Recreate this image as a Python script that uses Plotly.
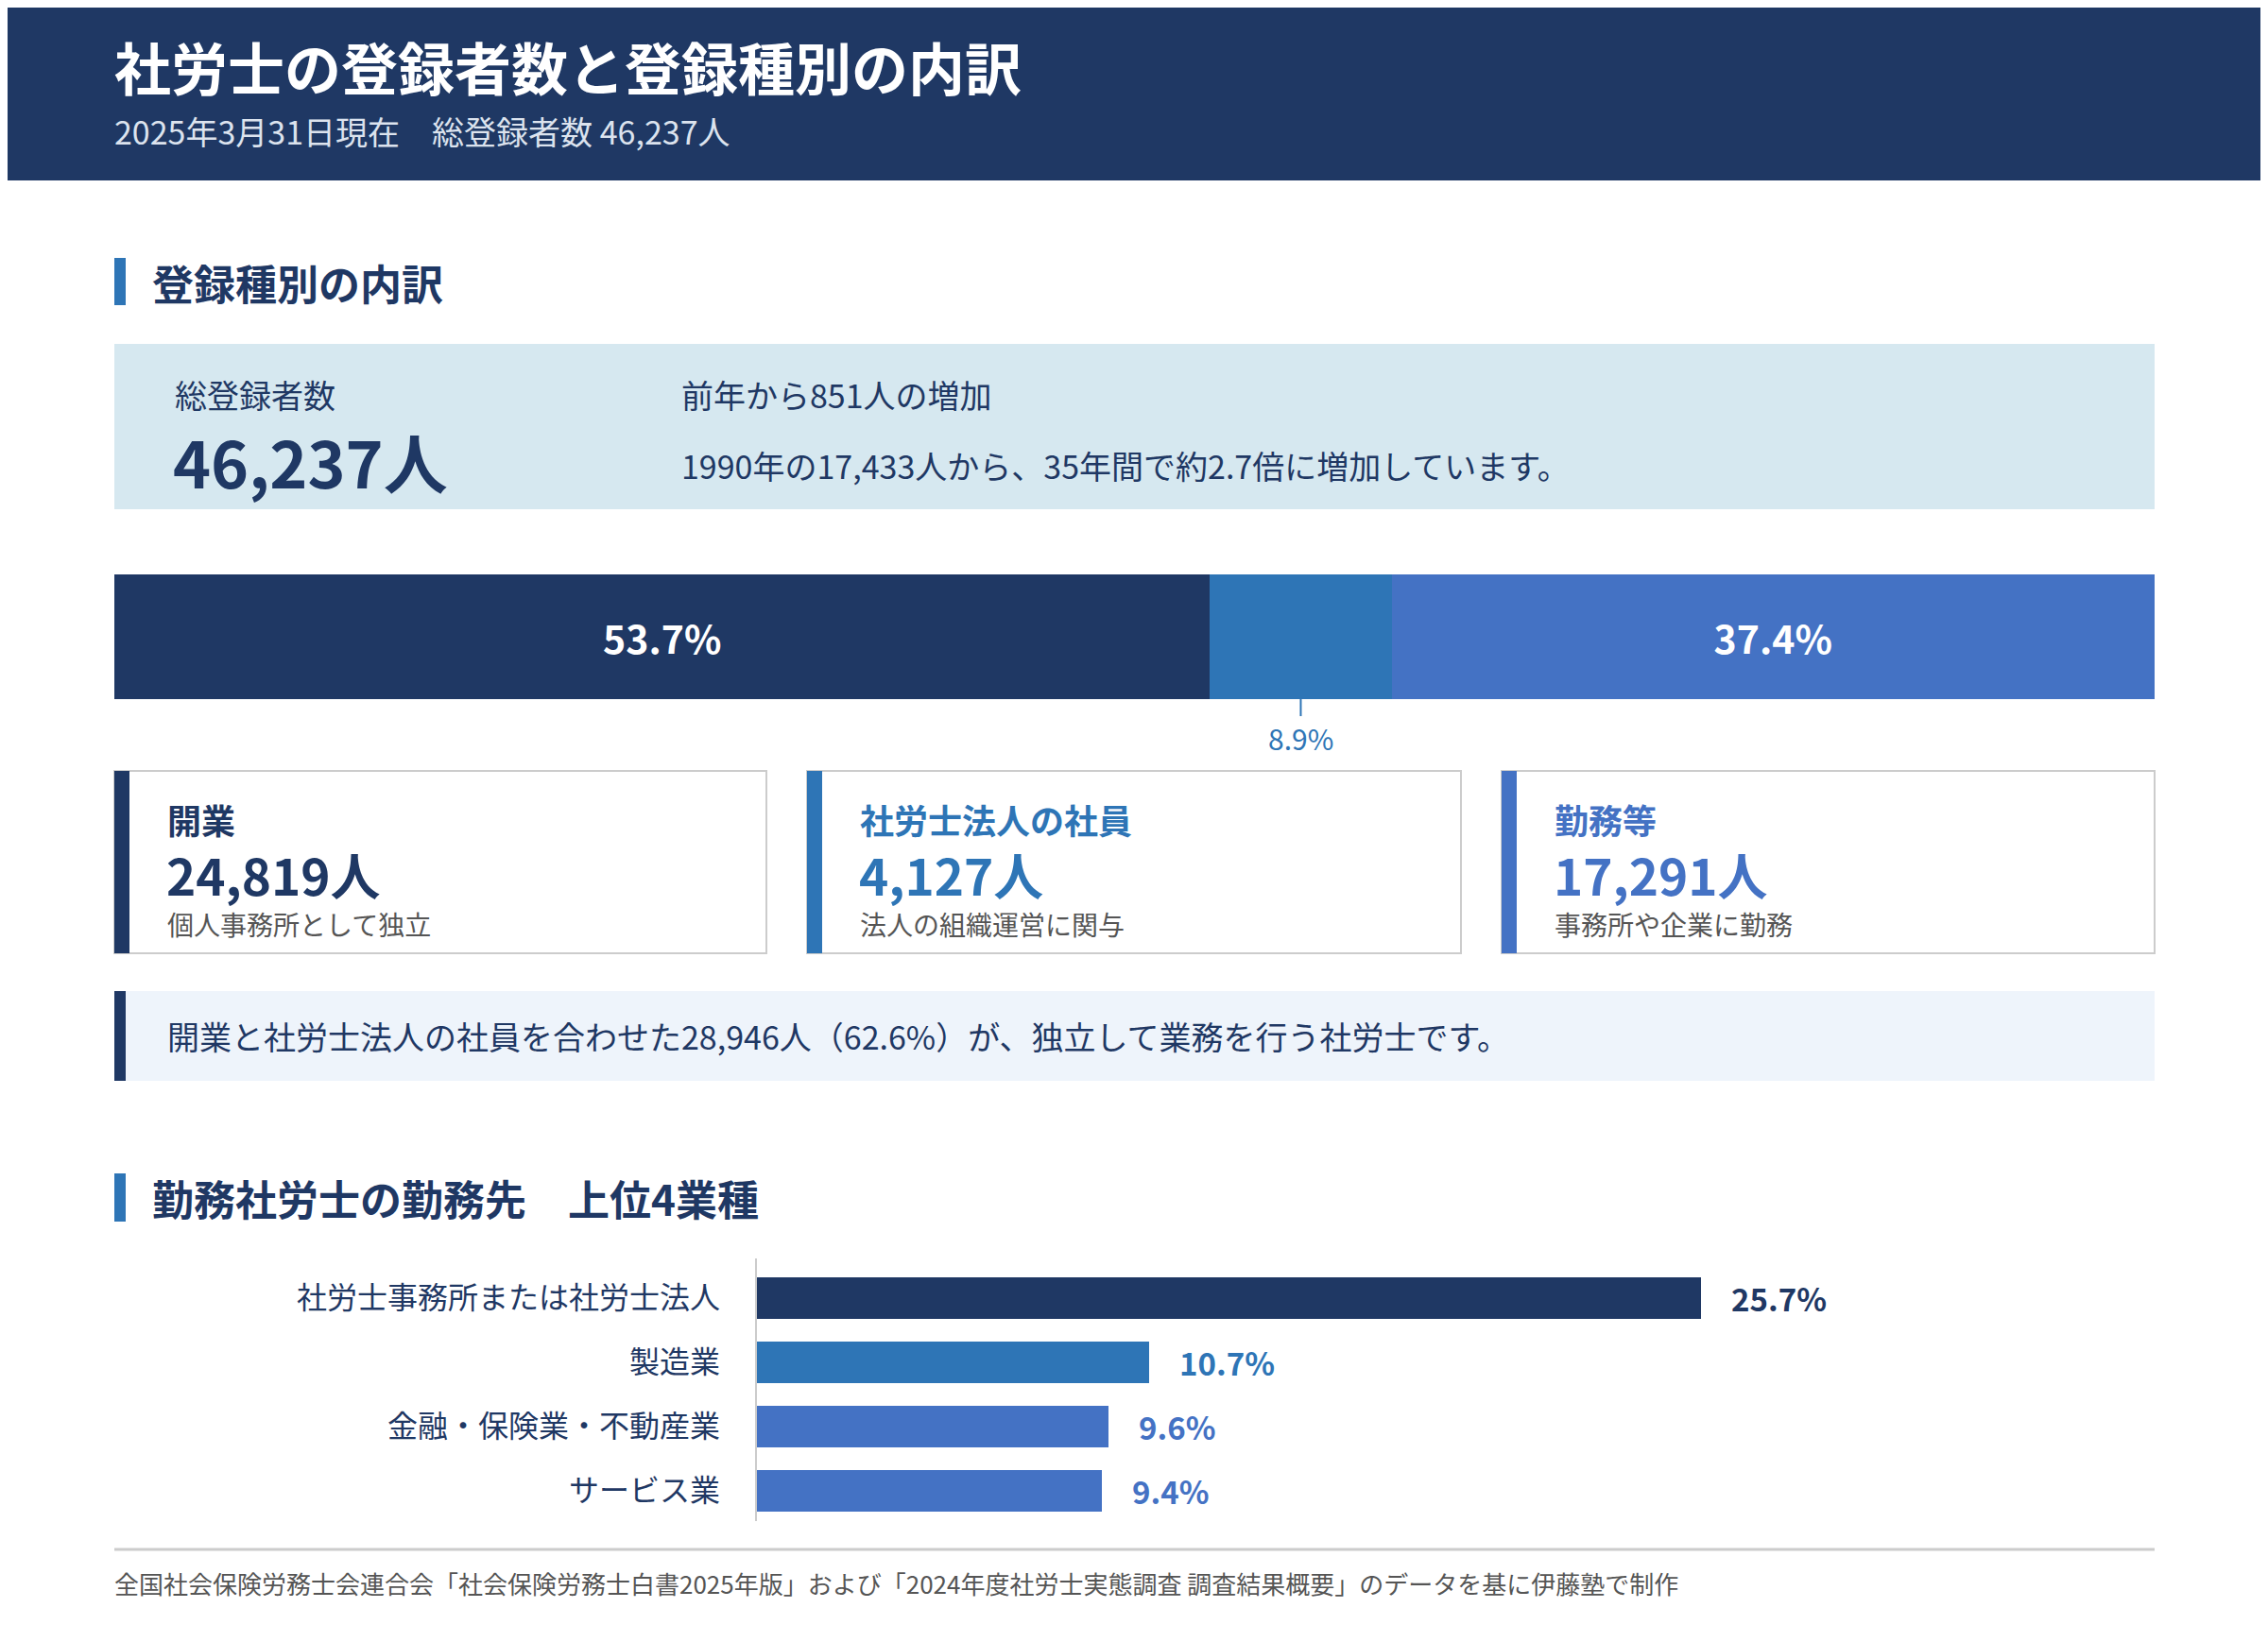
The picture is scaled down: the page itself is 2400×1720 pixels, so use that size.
import plotly.graph_objects as go

# ---- data ----
total_count = 46237
increase_count = 851
count_1990 = 17433

reg_types = ["開業", "社労士法人の社員", "勤務等"]
reg_counts = [24819, 4127, 17291]
reg_shares = [53.7, 8.9, 37.4]
reg_notes = ["個人事務所として独立", "法人の組織運営に関与", "事務所や企業に勤務"]

industries = ["社労士事務所または社労士法人", "製造業", "金融・保険業・不動産業", "サービス業"]
industry_shares = [25.7, 10.7, 9.6, 9.4]

# ---- styles ----
W, H = 2400, 1720
OFF = 8  # page body margin, layout numbers below are page pixels
NAVY = "#1F3864"
MID = "#2E75B6"
LIGHT = "#4472C4"
GRAY_TXT = "#555555"
BORDER = "#CCCCCC"
FONT = "Noto Sans CJK JP"
type_colors = [NAVY, MID, LIGHT]
industry_colors = [NAVY, MID, LIGHT, LIGHT]


def px(x):
    return (x - OFF) / W


def py(y):
    return 1 - (y - OFF) / H


shapes = []
annotations = []


def rect(x0, y0, x1, y1, fill, line_color=None, line_width=0):
    shapes.append(dict(type="rect", xref="paper", yref="paper", layer="below",
                       x0=px(x0), x1=px(x1), y0=py(y1), y1=py(y0),
                       fillcolor=fill,
                       line=dict(color=line_color or fill, width=line_width)))


def txt(x, y, text, size, color, bold=False, xanchor="left"):
    annotations.append(dict(xref="paper", yref="paper", x=px(x), y=py(y), text=text,
                            showarrow=False, xanchor=xanchor, yanchor="middle",
                            font=dict(family=FONT, size=size, color=color,
                                      weight=700 if bold else 400)))


fig = go.Figure()

# header
rect(0, 0, W + OFF, 191, NAVY)
txt(119, 69, "社労士の登録者数と登録種別の内訳", 60, "white", bold=True)
txt(119, 139, f"2025年3月31日現在　総登録者数 {total_count:,}人", 34, "#DCE3EE")

# section 1 heading
rect(121, 273, 133, 323, MID)
txt(159, 299, "登録種別の内訳", 44, NAVY, bold=True)

# summary box
rect(121, 364, 2280, 539, "#D6E8F0")
txt(183, 418, "総登録者数", 34, NAVY)
txt(181, 487, f"{total_count:,}人", 68, NAVY, bold=True)
txt(719, 418, f"前年から{increase_count:,}人の増加", 34, NAVY)
txt(719, 492, f"1990年の{count_1990:,}人から、35年間で約2.7倍に増加しています。", 34, NAVY)

# stacked share bar
for name, share, color in zip(reg_types, reg_shares, type_colors):
    fig.add_trace(go.Bar(
        x=[share], y=["share"], orientation="h", name=name, width=1,
        marker=dict(color=color, line=dict(width=0)),
        text=[f"{share}%" if share >= 15 else ""], textposition="inside",
        insidetextanchor="middle",
        insidetextfont=dict(family=FONT, size=41, color="white", weight=700),
        hoverinfo="skip", xaxis="x", yaxis="y",
    ))

# small segment label below the bar
cum = 0
for share, color in zip(reg_shares, type_colors):
    mid = cum + share / 2
    if share < 15:
        shapes.append(dict(type="line", xref="x", yref="paper", x0=mid, x1=mid,
                           y0=py(758), y1=py(740), line=dict(color=color, width=2)))
        annotations.append(dict(xref="x", yref="paper", x=mid, y=py(781),
                                text=f"{share}%", showarrow=False, xanchor="center",
                                yanchor="middle",
                                font=dict(family=FONT, size=30, color=color)))
    cum += share

# cards
card_x = [(121, 811), (854, 1546), (1589, 2280)]
for (x0, x1), name, cnt, note, color in zip(card_x, reg_types, reg_counts, reg_notes, type_colors):
    rect(x0, 816, x1, 1009, "white", BORDER, 2)
    rect(x0, 816, x0 + 16, 1009, color)
    txt(x0 + 54, 867, name, 36, color, bold=True)
    txt(x0 + 53, 925, f"{cnt:,}人", 53, color, bold=True)
    txt(x0 + 54, 978, note, 28, GRAY_TXT)

# independent note
indep = reg_counts[0] + reg_counts[1]
rect(121, 1049, 2280, 1144, "#EEF4FB")
rect(121, 1049, 133, 1144, NAVY)
txt(175, 1096, f"開業と社労士法人の社員を合わせた{indep:,}人（{indep / total_count * 100:.1f}%）が、"
    "独立して業務を行う社労士です。", 34, NAVY)

# section 2 heading
rect(121, 1242, 133, 1293, MID)
txt(159, 1268, "勤務社労士の勤務先　上位4業種", 44, NAVY, bold=True)

# industry bars
fig.add_trace(go.Bar(
    x=industry_shares, y=industries, orientation="h", width=0.65,
    marker=dict(color=industry_colors, line=dict(width=0)),
    hoverinfo="skip", xaxis="x2", yaxis="y2",
))
for ind, val, color in zip(industries, industry_shares, industry_colors):
    annotations.append(dict(xref="x2", yref="y2", x=val, y=ind, text=f"{val}%",
                            showarrow=False, xanchor="left", yanchor="middle", xshift=30,
                            font=dict(family=FONT, size=33, color=color, weight=700)))
shapes.append(dict(type="line", xref="paper", yref="paper", x0=px(800), x1=px(800),
                   y0=py(1610), y1=py(1332), line=dict(color=BORDER, width=2)))

# footer
shapes.append(dict(type="line", xref="paper", yref="paper", x0=px(121), x1=px(2280),
                   y0=py(1640), y1=py(1640), line=dict(color=BORDER, width=3)))
txt(119, 1675, "全国社会保険労務士会連合会「社会保険労務士白書2025年版」および"
    "「2024年度社労士実態調査 調査結果概要」のデータを基に伊藤塾で制作", 26, GRAY_TXT)

fig.update_layout(
    width=W, height=H, margin=dict(l=0, r=0, t=0, b=0),
    paper_bgcolor="white", plot_bgcolor="rgba(0,0,0,0)",
    font=dict(family=FONT), showlegend=False, barmode="stack",
    shapes=shapes, annotations=annotations,
    xaxis=dict(domain=[px(121), px(2280)], range=[0, 100], visible=False, fixedrange=True),
    yaxis=dict(domain=[py(740), py(608)], range=[-0.5, 0.5], visible=False, fixedrange=True),
    xaxis2=dict(domain=[px(800), px(800 + 38 * 38.9)], range=[0, 38], visible=False,
                anchor="y2", fixedrange=True),
    yaxis2=dict(domain=[py(1612), py(1340)], type="category", categoryorder="array",
                categoryarray=industries, range=[3.5, -0.5], anchor="x2",
                showgrid=False, zeroline=False, showline=False, ticks="",
                ticklabelstandoff=37,
                tickfont=dict(family=FONT, size=32, color=NAVY), fixedrange=True),
)

fig.write_html("out.html")
